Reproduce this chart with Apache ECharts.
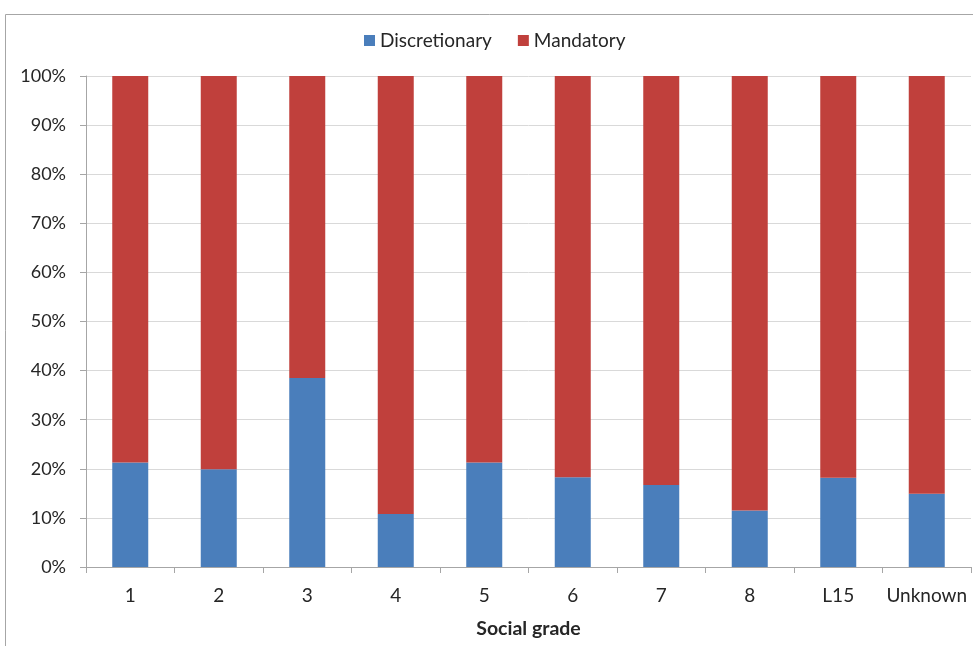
<!DOCTYPE html>
<html>
<head>
<meta charset="utf-8">
<script src="https://cdn.jsdelivr.net/npm/echarts@6/dist/echarts.min.js"></script>
<style>
  html, body { margin: 0; padding: 0; background: #fff; }
  #chart { width: 973px; height: 646px; }
</style>
</head>
<body>
<div id="chart"></div>
<script>
// Share of discretionary vs mandatory by social grade (percent)
const categories = ['1', '2', '3', '4', '5', '6', '7', '8', 'L15', 'Unknown'];
const discretionary = [21.3, 19.9, 38.5, 10.8, 21.3, 18.3, 16.7, 11.5, 18.2, 14.9];
const mandatory = [78.7, 80.1, 61.5, 89.2, 78.7, 81.7, 83.3, 88.5, 81.8, 85.1];
const yTicks = [0, 10, 20, 30, 40, 50, 60, 70, 80, 90, 100];

const font = 'Lato, "Open Sans", sans-serif';
const chart = echarts.init(document.getElementById('chart'));

chart.setOption({
  animation: false,
  textStyle: { fontFamily: font },
  graphic: [{
    type: 'polyline',
    shape: { points: [[5.5, 650], [5.5, 14.5], [980, 14.5]] },
    style: { stroke: '#a6a6a6', lineWidth: 1, fill: null },
    silent: true
  }],
  legend: {
    top: 26,
    left: 359,
    itemWidth: 11,
    itemHeight: 11,
    itemGap: 26,
    icon: 'rect',
    textStyle: { fontFamily: font, fontSize: 19, color: '#262626' },
    data: ['Discretionary', 'Mandatory']
  },
  grid: { left: 86, right: 2, top: 76, bottom: 79, containLabel: false },
  xAxis: {
    type: 'category',
    data: categories,
    name: 'Social grade',
    nameLocation: 'middle',
    nameGap: 52,
    nameTextStyle: { fontFamily: font, fontSize: 19.5, fontWeight: 'bold', color: '#262626' },
    axisLine: { lineStyle: { color: '#a6a6a6' } },
    axisTick: { show: true, length: 6, lineStyle: { color: '#a6a6a6' } },
    axisLabel: { interval: 0, fontFamily: font, fontSize: 19, color: '#262626', margin: 19 }
  },
  yAxis: {
    type: 'value',
    min: 0,
    max: 100,
    interval: 10,
    axisLine: { show: true, lineStyle: { color: '#a6a6a6' } },
    axisTick: { show: true, length: 6, lineStyle: { color: '#a6a6a6' } },
    splitLine: { lineStyle: { color: '#d9d9d9' } },
    axisLabel: {
      fontFamily: font, fontSize: 18, color: '#262626', margin: 20,
      formatter: v => (yTicks.includes(v) ? v + '%' : '')
    }
  },
  series: [
    {
      name: 'Discretionary',
      type: 'bar',
      stack: 'total',
      barWidth: 36,
      itemStyle: { color: '#4a7ebb' },
      data: discretionary
    },
    {
      name: 'Mandatory',
      type: 'bar',
      stack: 'total',
      barWidth: 36,
      itemStyle: { color: '#c0403c' },
      data: mandatory
    }
  ]
});
</script>
</body>
</html>
